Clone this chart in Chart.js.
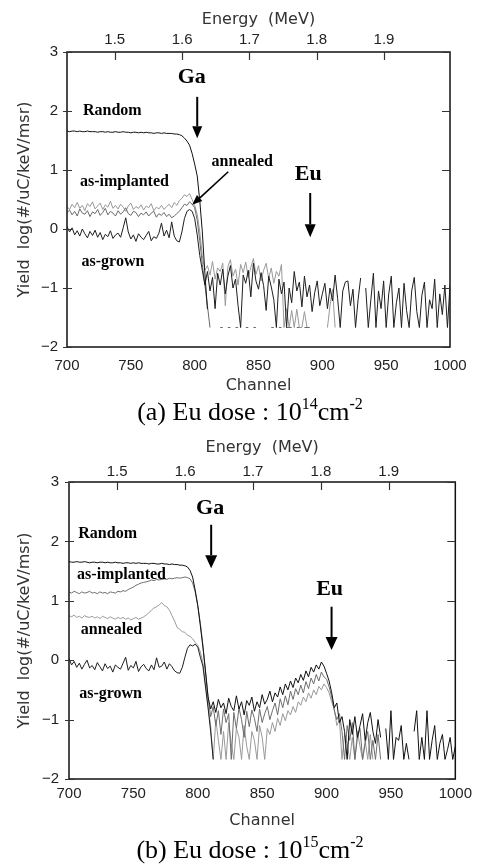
<!DOCTYPE html>
<html><head><meta charset="utf-8">
<script src="https://cdn.jsdelivr.net/npm/chart.js@4.4.1/dist/chart.umd.min.js"></script>
<style>
body{margin:0;background:#fff;width:478px;height:866px;overflow:hidden;position:relative;}
canvas{position:absolute;left:0;}
.cap{position:absolute;left:11px;width:478px;text-align:center;font-family:"Liberation Serif","Times New Roman",serif;font-size:26px;line-height:26px;color:#000;white-space:nowrap;}
.sup{font-size:16px;position:relative;top:-11px;}
</style></head>
<body>
<canvas id="ca" width="478" height="400" style="top:0px"></canvas>
<div class="cap" style="top:399px">(a) Eu dose : 10<span class="sup">14</span>cm<span class="sup">-2</span></div>
<canvas id="cb" width="478" height="400" style="top:430px"></canvas>
<div class="cap" style="top:837px">(b) Eu dose : 10<span class="sup">15</span>cm<span class="sup">-2</span></div>
<script>
// ---- channel grid (x categories) ----
const channels = [];
for (let c = 700; c <= 1000; c += 2) channels.push(c);
const energyRange = [1.429, 1.998];
const yTicks = [-2, -1, 0, 1, 2, 3];

// ---- Panel (a): Eu dose 1e14 ----
const aRandom = [
1.66,1.65,1.66,1.66,1.65,1.66,1.65,1.65,1.66,1.65,
1.65,1.65,1.64,1.65,1.65,1.64,1.65,1.64,1.64,1.65,
1.64,1.64,1.65,1.64,1.64,1.63,1.64,1.64,1.63,1.64,
1.63,1.64,1.63,1.63,1.62,1.63,1.63,1.62,1.63,1.62,
1.62,1.62,1.61,1.61,1.60,1.58,1.54,1.49,1.42,1.28,
1.10,0.90,0.48,-0.05,-0.75,-1.36];
const aImplanted = [
0.38,0.33,0.42,0.36,0.45,0.35,0.40,0.31,0.43,0.38,
0.46,0.34,0.39,0.44,0.33,0.41,0.37,0.47,0.35,0.40,
0.34,0.42,0.37,0.30,0.39,0.44,0.33,0.38,0.35,0.41,
0.32,0.39,0.36,0.43,0.31,0.37,0.34,0.40,0.33,0.38,
0.42,0.36,0.45,0.40,0.48,0.52,0.58,0.55,0.60,0.50,
0.40,0.25,-0.05,-0.45,-0.70,-0.62,-0.78,-0.55,-0.85,-0.66,
-0.72,-0.58,-1.30,-0.64,-0.52,-0.80,-0.68,-0.95,-0.60,-0.74,
-0.56,-0.82,-0.65,-0.50,-0.77,-0.62,-0.88,-0.70,-0.58,-0.84,
-0.66,-0.92,-0.72,-0.80,-0.60,-1.67,-1.35,-1.67,-1.38,-1.67,
-1.36,-1.67,-1.67,-1.40,-1.67,-1.67,null,null,null,null,
null,null,-1.67,-1.30,-1.02,-1.67];
const aAnnealed = [
0.28,0.32,0.24,0.30,0.22,0.34,0.27,0.25,0.31,0.21,
0.29,0.26,0.33,0.23,0.28,0.35,0.24,0.30,0.27,0.22,
0.31,0.25,0.29,0.36,0.26,0.23,0.30,0.28,0.21,0.27,
0.24,0.29,0.22,0.27,0.30,0.20,0.26,0.23,0.28,0.21,
0.25,0.19,0.22,0.26,0.30,0.36,0.42,0.40,0.46,0.42,
0.36,0.15,-0.20,-0.60,-0.95,-1.30,-1.67,null,null,null,
-1.67,-1.67,null,-1.67,-1.67,null,-1.67,-1.67,null,null,
-1.67,-1.67,null,-1.67,-1.67,null,null,null,null,null,
-1.67,-1.67,null,-1.67,-1.67,null,-1.67,-1.67,-1.67,null,
-1.67,-1.67,null,-1.67,-1.67,-1.67];
const aGrown = [
0.04,-0.05,0.02,-0.10,-0.03,-0.12,0.00,-0.08,-0.15,-0.04,
-0.11,-0.02,-0.14,-0.06,-0.18,-0.09,-0.13,-0.03,-0.16,-0.10,
-0.07,-0.14,0.02,0.19,-0.05,-0.17,-0.10,-0.21,-0.08,-0.14,
-0.18,-0.11,-0.04,-0.20,-0.13,-0.16,-0.07,0.10,-0.12,-0.02,
-0.15,0.12,-0.12,-0.20,-0.22,-0.05,0.18,0.30,0.33,0.30,
0.18,-0.10,-0.45,-0.70,-0.95,-0.72,-1.05,-0.82,-1.35,-0.75,
-0.95,-0.68,-1.10,-0.80,-0.62,-1.00,-0.85,-1.30,-1.67,-0.78,
-0.92,-0.70,-1.15,-0.58,-0.88,-1.02,-0.74,-0.96,-1.38,-0.80,
-0.98,-1.20,-1.67,-0.85,-1.10,-0.90,-1.67,-1.00,-1.25,-0.72,
-1.05,-0.90,-1.32,-0.80,-1.15,-0.95,-1.40,-1.08,-0.88,-1.30,
-1.10,-0.92,-1.35,-1.00,-1.22,-0.78,-1.18,-1.67,-1.05,-0.90,
-0.88,-1.30,-1.02,-1.67,-1.20,-0.83,null,-1.00,-1.67,-1.20,
-0.75,-1.67,-1.05,-1.35,-0.88,-1.67,-1.10,-0.80,-1.67,-1.25,
-1.00,-1.67,-0.92,-1.38,-1.67,-1.05,-0.82,-1.40,-1.67,-1.12,
-0.90,-1.67,-1.20,-1.35,-0.85,-1.67,-1.10,-1.45,-0.95,-1.67,
-0.95];

// ---- Panel (b): Eu dose 1e15 ----
const bRandom = [
1.66,1.65,1.65,1.66,1.65,1.65,1.66,1.65,1.64,1.65,
1.65,1.64,1.65,1.65,1.64,1.65,1.64,1.64,1.65,1.64,
1.64,1.63,1.64,1.64,1.63,1.64,1.63,1.64,1.63,1.63,
1.63,1.62,1.63,1.63,1.62,1.62,1.63,1.62,1.62,1.61,
1.62,1.61,1.61,1.60,1.60,1.59,1.57,1.51,1.40,1.18,
0.92,0.58,0.22,-0.18,-0.62,-0.82,-0.70,-0.88,-0.66,-0.80,
-0.72,-0.90,-0.64,-0.78,-0.85,-0.60,-0.82,-0.70,-0.92,-0.68,
-0.76,-0.62,-0.86,-0.70,-0.80,-0.58,-0.74,-0.66,-0.52,-0.70,
-0.55,-0.62,-0.45,-0.58,-0.40,-0.50,-0.35,-0.46,-0.30,-0.38,
-0.24,-0.34,-0.18,-0.28,-0.12,-0.20,-0.08,-0.15,-0.03,-0.10,
-0.22,-0.35,-0.55,-0.80,-0.72,-1.05,-0.95,-1.20,-1.67,-1.00,
-1.25,-0.95,-1.30,-1.10,-0.90,-1.35,-1.05,-0.88,-1.20,-1.40,
-1.00,-1.30,null,-1.15,-1.67,-0.85,-1.67,-1.30,-1.35,-1.10,
-1.67,-1.40,-1.67,null,-1.20,-0.85,-1.67,-1.30,-1.67,-0.85,
-1.67,-1.35,-1.10,-1.67,-1.40,-1.25,-1.67,-1.50,-1.30,-1.67,
-1.45];
const bImplanted = [
1.15,1.13,1.16,1.14,1.12,1.15,1.13,1.14,1.16,1.13,
1.14,1.12,1.15,1.13,1.14,1.12,1.15,1.14,1.13,1.16,
1.15,1.17,1.16,1.19,1.21,1.23,1.26,1.28,1.30,1.31,
1.32,1.33,1.35,1.34,1.36,1.35,1.36,1.37,1.36,1.38,
1.37,1.38,1.39,1.38,1.39,1.40,1.39,1.37,1.30,1.15,
0.92,0.62,0.25,-0.20,-0.62,-0.95,-0.78,-1.10,-0.85,-1.25,
-0.82,-1.05,-0.90,-1.67,-0.88,-1.15,-0.80,-1.00,-1.30,-0.86,
-1.12,-0.84,-0.98,-1.20,-0.82,-1.05,-0.90,-0.78,-1.00,-0.85,
-0.72,-0.92,-0.65,-0.80,-0.60,-0.75,-0.52,-0.66,-0.48,-0.58,
-0.42,-0.55,-0.36,-0.48,-0.30,-0.40,-0.24,-0.35,-0.20,-0.28,
-0.32,-0.45,-0.62,-0.85,-1.00,-0.90,-1.20,-1.67,-1.10,-1.35,
-1.05,-1.67,-1.30,-1.15,-1.67,-1.40,-1.20,-1.67,-1.35,-1.67,
-1.25,-1.67];
const bAnnealed = [
0.75,0.73,0.76,0.72,0.74,0.71,0.75,0.73,0.72,0.74,
0.71,0.73,0.70,0.74,0.72,0.70,0.73,0.71,0.69,0.72,
0.70,0.72,0.69,0.71,0.68,0.70,0.72,0.69,0.71,0.73,
0.76,0.80,0.84,0.88,0.90,0.93,0.97,0.92,0.90,0.84,
0.75,0.66,0.55,0.52,0.48,0.47,0.42,0.40,0.36,0.30,
0.25,0.14,-0.05,-0.40,-0.78,-1.10,-1.67,-1.00,-1.35,-1.67,
-1.20,-1.67,-1.05,-1.40,-1.67,-1.15,-1.30,-1.67,-1.10,-1.45,
-1.67,-1.20,-1.35,-1.67,-1.10,-1.30,-1.67,-1.15,-1.25,-1.05,
-1.20,-0.98,-1.10,-0.90,-1.02,-0.85,-0.92,-0.78,-0.88,-0.70,
-0.76,-0.62,-0.70,-0.55,-0.64,-0.50,-0.58,-0.44,-0.50,-0.40,
-0.46,-0.55,-0.70,-0.82,-1.10,-1.00,-1.67,-1.25,-1.40,-1.67,
-1.30,-1.67,-1.20,-1.45,-1.67,-1.35,-1.67,-1.25,-1.67];
const bGrown = [
0.03,-0.08,-0.02,-0.12,-0.05,-0.15,-0.07,0.00,-0.13,-0.09,
-0.16,-0.04,-0.11,-0.18,-0.06,-0.14,-0.10,-0.20,-0.08,-0.12,
-0.15,-0.05,0.05,-0.17,-0.09,-0.13,-0.02,-0.19,-0.11,-0.07,
-0.14,-0.18,-0.08,-0.16,0.04,-0.12,-0.10,-0.03,-0.15,-0.06,
-0.11,-0.18,-0.21,-0.22,-0.12,0.05,0.20,0.26,0.24,0.27,
0.22,0.05,-0.10,-0.45,-0.80,-1.20,-1.67];

// ---- helpers ----
const toXY = vals => channels.map((c, i) => ({x: c, y: (vals[i] === undefined ? null : vals[i])}));

function drawArrow(ctx, x1, y1, x2, y2, hl, hw, lw) {
  const ang = Math.atan2(y2 - y1, x2 - x1);
  const bx = x2 - hl * Math.cos(ang), by = y2 - hl * Math.sin(ang);
  ctx.lineWidth = lw;
  ctx.beginPath(); ctx.moveTo(x1, y1); ctx.lineTo(bx, by); ctx.stroke();
  ctx.beginPath(); ctx.moveTo(x2, y2);
  ctx.lineTo(bx + hw / 2 * Math.sin(ang), by - hw / 2 * Math.cos(ang));
  ctx.lineTo(bx - hw / 2 * Math.sin(ang), by + hw / 2 * Math.cos(ang));
  ctx.closePath(); ctx.fill();
}

const deco = {
  id: 'deco',
  afterDatasetsDraw(chart, args, opts) {
    const {ctx, chartArea: a, scales} = chart;
    const X = scales.x, Y = scales.y, T = scales.xTop;
    ctx.save();
    ctx.strokeStyle = '#111';
    ctx.lineWidth = 1.5;
    ctx.strokeRect(a.left, a.top, a.right - a.left, a.bottom - a.top);
    ctx.lineWidth = 1.2;
    ctx.strokeStyle = '#333';
    Y.ticks.forEach(t => {
      const y = Math.round(Y.getPixelForValue(t.value)) + 0.5;
      ctx.beginPath();
      ctx.moveTo(a.left - 4, y); ctx.lineTo(a.left + 5, y);
      ctx.moveTo(a.right - 8, y); ctx.lineTo(a.right, y);
      ctx.stroke();
    });
    T.ticks.forEach(t => {
      const x = Math.round(T.getPixelForValue(t.value)) + 0.5;
      ctx.beginPath(); ctx.moveTo(x, a.top); ctx.lineTo(x, a.top + 8); ctx.stroke();
    });
    ctx.fillStyle = '#000'; ctx.strokeStyle = '#000';
    ctx.textAlign = 'center'; ctx.textBaseline = 'middle';
    opts.labels.forEach(l => {
      ctx.font = 'bold ' + l.size + 'px "Liberation Serif", "Times New Roman", serif';
      ctx.fillText(l.text, X.getPixelForValue(l.ch), Y.getPixelForValue(l.v));
    });
    opts.arrows.forEach(r => {
      drawArrow(ctx, X.getPixelForValue(r.from[0]), Y.getPixelForValue(r.from[1]),
        X.getPixelForValue(r.to[0]), Y.getPixelForValue(r.to[1]), r.hl, r.hw, r.lw);
    });
    ctx.restore();
  }
};

function makeChart(id, series, cfg) {
  const tickFont = {family: '"Liberation Sans", Arial, sans-serif', size: 15};
  const titleFont = {family: '"DejaVu Sans", sans-serif', size: 16};
  return new Chart(document.getElementById(id), {
    type: 'line',
    data: {
      datasets: series.map(s => ({
        label: s.name, data: toXY(s.values), borderColor: s.color,
        borderWidth: 1, pointRadius: 0, tension: 0, spanGaps: false, fill: false
      }))
    },
    plugins: [deco],
    options: {
      responsive: false, animation: false, devicePixelRatio: 1,
      layout: {padding: {left: 0, right: cfg.padRight, top: 0, bottom: 0}},
      plugins: {
        legend: {display: false}, tooltip: {enabled: false},
        deco: {labels: cfg.labels, arrows: cfg.arrows}
      },
      scales: {
        x: {
          type: 'linear', position: 'bottom', min: 700, max: 1000,
          grid: {display: false, drawTicks: false}, border: {display: false},
          ticks: {stepSize: 50, font: tickFont, color: '#222', padding: cfg.xPad, maxRotation: 0,
            callback: v => String(v)},
          title: {display: true, text: 'Channel', font: titleFont, color: '#333', padding: {top: 0, bottom: cfg.xTitlePad}},
          afterFit: s => { s.height = cfg.bottomH; }
        },
        xTop: {
          type: 'linear', position: 'top', min: energyRange[0], max: energyRange[1],
          grid: {display: false, drawTicks: false}, border: {display: false},
          ticks: {stepSize: 0.1, includeBounds: false, font: tickFont, color: '#222', padding: cfg.topPad,
            callback: v => v.toFixed(1)},
          title: {display: true, text: 'Energy  (MeV)', font: titleFont, color: '#333', padding: {top: cfg.topTitlePad, bottom: 0}},
          afterFit: s => { s.height = 52; }
        },
        y: {
          type: 'linear', position: 'left', min: -2, max: 3,
          grid: {display: false, drawTicks: false}, border: {display: false},
          afterBuildTicks: s => { s.ticks = yTicks.map(v => ({value: v})); },
          ticks: {font: tickFont, color: '#222', padding: cfg.yPad,
            callback: v => (v < 0 ? '\u2212' + Math.abs(v) : String(v))},
          title: {display: true, text: 'Yield  log(#/uC/keV/msr)', font: titleFont, color: '#333', padding: {top: 15, bottom: 0}},
          afterFit: s => { s.width = cfg.leftW; }
        }
      }
    }
  });
}

makeChart('ca', [
  {name: 'Random', values: aRandom, color: '#111'},
  {name: 'as-grown', values: aGrown, color: '#1e1e1e'},
  {name: 'annealed', values: aAnnealed, color: '#6a6a6a'},
  {name: 'as-implanted', values: aImplanted, color: '#999'}
], {
  padRight: 28, leftW: 67, bottomH: 53, xPad: 10, xTitlePad: 5, topPad: 3, topTitlePad: 10, yPad: 9,
  labels: [
    {text: 'Ga', ch: 797.7, v: 2.57, size: 22},
    {text: 'Random', ch: 735.5, v: 2.0, size: 16},
    {text: 'annealed', ch: 837.3, v: 1.14, size: 16},
    {text: 'as-implanted', ch: 745, v: 0.80, size: 16},
    {text: 'Eu', ch: 889, v: 0.92, size: 22},
    {text: 'as-grown', ch: 736, v: -0.56, size: 16}
  ],
  arrows: [
    {from: [802, 2.24], to: [802, 1.54], hl: 12, hw: 10, lw: 2},
    {from: [826.3, 0.97], to: [798.1, 0.41], hl: 10, hw: 8, lw: 1.6},
    {from: [890.5, 0.61], to: [890.5, -0.14], hl: 13, hw: 11, lw: 2}
  ]
});

makeChart('cb', [
  {name: 'Random', values: bRandom, color: '#111'},
  {name: 'as-grown', values: bGrown, color: '#1e1e1e'},
  {name: 'as-implanted', values: bImplanted, color: '#6e6e6e'},
  {name: 'annealed', values: bAnnealed, color: '#9a9a9a'}
], {
  padRight: 21, leftW: 69, bottomH: 51, xPad: 6, xTitlePad: 0, topPad: 1, topTitlePad: 8, yPad: 10,
  labels: [
    {text: 'Ga', ch: 809.6, v: 2.55, size: 22},
    {text: 'Random', ch: 730, v: 2.12, size: 16},
    {text: 'as-implanted', ch: 740.8, v: 1.43, size: 16},
    {text: 'annealed', ch: 733, v: 0.51, size: 16},
    {text: 'Eu', ch: 902.4, v: 1.2, size: 22},
    {text: 'as-grown', ch: 732.3, v: -0.57, size: 16}
  ],
  arrows: [
    {from: [810.4, 2.28], to: [810.4, 1.55], hl: 13, hw: 12, lw: 2},
    {from: [903.9, 0.90], to: [903.9, 0.17], hl: 13, hw: 12, lw: 2}
  ]
});
</script>
</body></html>
